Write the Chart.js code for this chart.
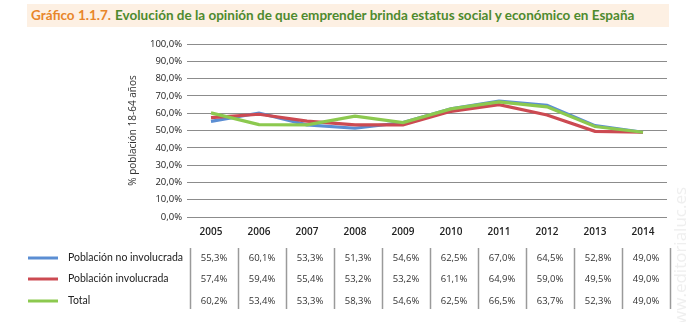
<!DOCTYPE html>
<html>
<head>
<meta charset="utf-8">
<script src="https://cdn.jsdelivr.net/npm/chart.js@4.4.0/dist/chart.umd.min.js"></script>
<style>
  html, body { margin: 0; padding: 0; background: #fff; }
  #wrap { position: relative; width: 691px; height: 322px; overflow: hidden; }
  #title {
    position: absolute; left: 27px; top: 4px; width: 642px; height: 23px;
    background: #fdf0e3; font-family: Lato, "Open Sans", sans-serif; font-size: 13.5px;
    line-height: 23px; white-space: nowrap; padding-left: 4px; box-sizing: border-box;
  }
  #title .num { color: #e8862a; font-weight: bold; margin-right: 4px; }
  #title .txt { color: #4e8a2e; font-weight: bold; }
  #chartBox { position: absolute; left: 0; top: 0; width: 691px; height: 322px; }
</style>
</head>
<body>
<div id="wrap">
  <div id="chartBox"><canvas id="opinionChart" width="691" height="322"></canvas></div>
  <div id="title"><span class="num">Gráfico 1.1.7.</span><span class="txt">Evolución de la opinión de que emprender brinda estatus social y económico en España</span></div>
</div>
<script>
// Opinión de que emprender brinda estatus social y económico (% población 18-64 años)
const years = ['2005', '2006', '2007', '2008', '2009', '2010', '2011', '2012', '2013', '2014'];
const noInvolucrada = [55.3, 60.1, 53.3, 51.3, 54.6, 62.5, 67.0, 64.5, 52.8, 49.0];
const involucrada = [57.4, 59.4, 55.4, 53.2, 53.2, 61.1, 64.9, 59.0, 49.5, 49.0];
const total = [60.2, 53.4, 53.3, 58.3, 54.6, 62.5, 66.5, 63.7, 52.3, 49.0];

const seriesNames = ['Población no involucrada', 'Población involucrada', 'Total'];
const seriesColors = ['#5b8ed3', '#cc4a52', '#8cc94f'];
const seriesData = [noInvolucrada, involucrada, total];

function fmtPct(v) {
    return v.toFixed(1).replace('.', ',') + '%';
}

// Draws the y axis title, the data table under the plot and the side watermark
const tablePlugin = {
    id: 'dataTable',
    afterDraw(chart) {
        const ctx = chart.ctx;
        const x = chart.scales.x;
        const area = chart.chartArea;
        ctx.save();

        // y axis title
        ctx.translate(133, (area.top + area.bottom) / 2);
        ctx.rotate(-Math.PI / 2);
        ctx.fillStyle = '#333';
        ctx.font = '10px "Open Sans", sans-serif';
        ctx.textAlign = 'center';
        ctx.textBaseline = 'middle';
        ctx.fillText('% población 18-64 años', 0, 0);
        ctx.restore();

        ctx.save();
        const rowY = [258, 279, 301];
        const step = x.getPixelForValue(1) - x.getPixelForValue(0);

        // legend swatches and row labels
        seriesNames.forEach((name, r) => {
            ctx.strokeStyle = seriesColors[r];
            ctx.lineWidth = 3;
            ctx.beginPath();
            ctx.moveTo(28, rowY[r]);
            ctx.lineTo(58, rowY[r]);
            ctx.stroke();
            ctx.fillStyle = '#222';
            ctx.font = '10.5px Lato, sans-serif';
            ctx.textAlign = 'left';
            ctx.textBaseline = 'middle';
            ctx.fillText(name, 68, rowY[r]);
        });

        // separators
        ctx.strokeStyle = '#9a9a9a';
        ctx.lineWidth = 1.5;
        for (let i = 0; i <= years.length; i++) {
            const sx = Math.round(x.getPixelForValue(0) - step / 2 + 3 + i * step) + 0.5;
            ctx.beginPath();
            ctx.moveTo(sx, 248);
            ctx.lineTo(sx, 309);
            ctx.stroke();
        }

        // values
        ctx.fillStyle = '#333';
        ctx.font = '9.5px "Open Sans", sans-serif';
        ctx.textAlign = 'center';
        ctx.textBaseline = 'middle';
        seriesData.forEach((vals, r) => {
            vals.forEach((v, i) => {
                ctx.fillText(fmtPct(v), x.getPixelForValue(i) + 3, rowY[r]);
            });
        });

        // watermark
        ctx.translate(681, 262);
        ctx.rotate(-Math.PI / 2);
        ctx.fillStyle = '#efefef';
        ctx.font = '17px "Open Sans", sans-serif';
        ctx.textAlign = 'center';
        ctx.fillText('www.editorialuc.es', 0, 0);
        ctx.restore();
    }
};

// green on top, then red, then blue
const drawOrder = [3, 2, 1];

const ctx = document.getElementById('opinionChart').getContext('2d');
const opinionChart = new Chart(ctx, {
    type: 'line',
    data: {
        labels: years,
        datasets: seriesNames.map((name, r) => ({
            label: name,
            data: seriesData[r],
            order: drawOrder[r],
            borderColor: seriesColors[r],
            backgroundColor: seriesColors[r],
            borderWidth: 3.2,
            pointRadius: 0,
            tension: 0,
            fill: false
        }))
    },
    options: {
        responsive: false,
        animation: false,
        layout: {
            padding: { top: 44, right: 24, bottom: 0, left: 0 }
        },
        plugins: {
            legend: { display: false },
            title: { display: false },
            tooltip: { enabled: false }
        },
        scales: {
            x: {
                offset: true,
                grid: { display: false, drawTicks: false },
                border: { display: false },
                ticks: {
                    padding: 9,
                    color: '#222',
                    font: { family: 'Open Sans', size: 10, weight: '600' }
                },
                afterFit: function(scale) { scale.height = 105; }
            },
            y: {
                min: 0,
                max: 100,
                grid: { color: '#8c8c8c', lineWidth: 1, drawTicks: false },
                border: { display: false },
                ticks: {
                    stepSize: 10,
                    padding: 5,
                    color: '#222',
                    font: { family: 'Open Sans', size: 9.5 },
                    callback: function(value) { return fmtPct(value); }
                },
                afterFit: function(scale) { scale.width = 187; }
            }
        }
    },
    plugins: [tablePlugin]
});
</script>
</body>
</html>
